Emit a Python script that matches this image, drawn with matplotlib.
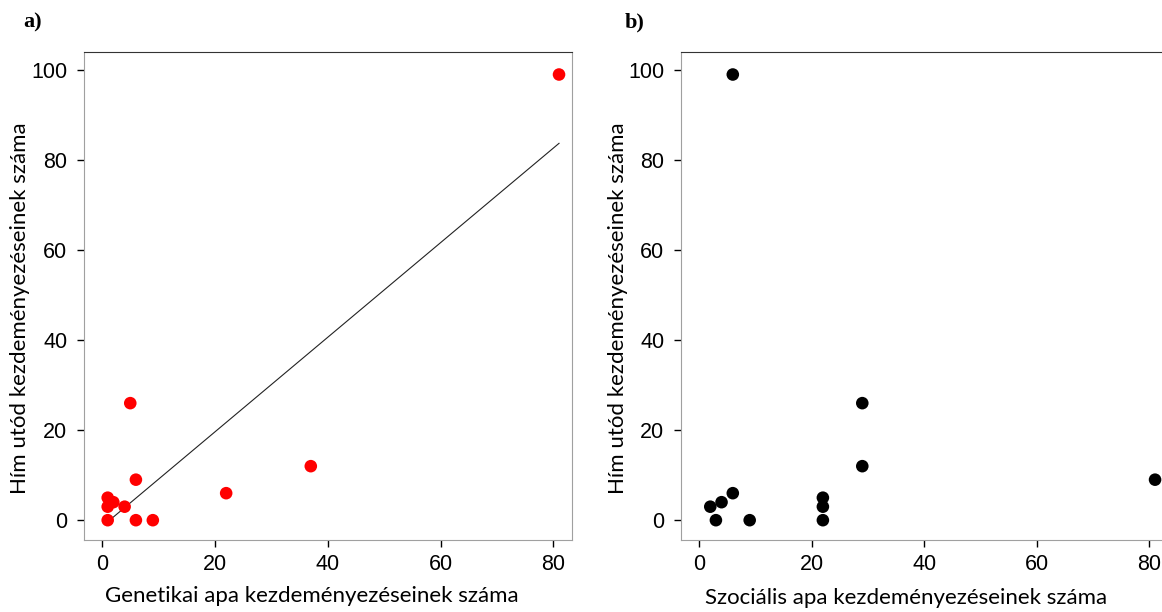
import numpy as np
import matplotlib.pyplot as plt

# a) genetic father
gen_x = [81, 5, 6, 22, 37, 1, 1, 2, 4, 1, 6, 9]
gen_y = [99, 26, 9, 6, 12, 5, 3, 4, 3, 0, 0, 0]

# b) social father
soc_x = [6, 29, 29, 81, 22, 22, 22, 2, 3, 4, 6, 9]
soc_y = [99, 26, 12, 9, 5, 3, 0, 3, 0, 4, 6, 0]

xticks = [0, 20, 40, 60, 80]
yticks = [0, 20, 40, 60, 80, 100]

ylabel = 'Hím utód kezdeményezéseinek száma'
xlabel_a = 'Genetikai apa kezdeményezéseinek száma'
xlabel_b = 'Szociális apa kezdeményezéseinek száma'

W, H = 1162, 612
fig = plt.figure(figsize=(W / 100, H / 100), dpi=100)

tick_font = 'Liberation Sans'
label_font = 'Lato'


def px(x, y):
    return x / W, 1 - y / H


def style(ax):
    ax.set_xlim(-3.2, 83.3)
    ax.set_ylim(-4.4, 104)
    ax.set_xticks(xticks)
    ax.set_yticks(yticks)
    for s in ['left', 'bottom', 'right']:
        ax.spines[s].set_color('#a0a0a0')
    ax.spines['top'].set_color('#333333')
    ax.tick_params(direction='out', length=5, width=1, color='black',
                   labelsize=15.5, pad=5)
    ax.tick_params(axis='y', pad=7)
    for lab in ax.get_xticklabels() + ax.get_yticklabels():
        lab.set_family(tick_font)


ax1 = fig.add_axes([84 / W, 1 - 540 / H, (572 - 84) / W, (540 - 52) / H])
ax1.scatter(gen_x, gen_y, s=82, color='#ff0000', edgecolors='none', zorder=3)
k, b = np.polyfit(gen_x, gen_y, 1)
lx = np.array([min(gen_x), max(gen_x)])
ax1.plot(lx, k * lx + b, color='#222222', lw=0.8, zorder=2)
style(ax1)

ax2 = fig.add_axes([681 / W, 1 - 540 / H, (1168 - 681) / W, (540 - 52) / H])
ax2.scatter(soc_x, soc_y, s=82, color='black', edgecolors='none', zorder=3)
style(ax2)

fig.text(*px(312, 596), xlabel_a, ha='center', va='center',
         family=label_font, fontsize=16)
fig.text(*px(906, 598), xlabel_b, ha='center', va='center',
         family=label_font, fontsize=16)
fig.text(*px(20, 308), ylabel, ha='center', va='center', rotation=90,
         family=label_font, fontsize=16)
fig.text(*px(618, 308), ylabel, ha='center', va='center', rotation=90,
         family=label_font, fontsize=16)

fig.text(*px(23, 22), 'a)', ha='left', va='center', family='Liberation Serif',
         fontweight='bold', fontsize=16)
fig.text(*px(625, 22), 'b)', ha='left', va='center', family='Liberation Serif',
         fontweight='bold', fontsize=16)

fig.savefig('out.png', dpi=100)
